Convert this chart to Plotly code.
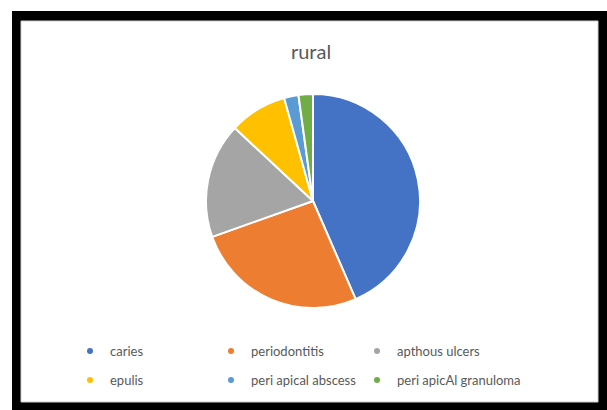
import plotly.graph_objects as go

# Case counts per condition (rural group)
labels = ["caries", "periodontitis", "apthous ulcers", "epulis",
          "peri apical abscess", "peri apicAl granuloma"]
counts = [40, 24, 16, 8, 2, 2]
colors = ["#4472C4", "#ED7D31", "#A5A5A5", "#FFC000", "#5B9BD5", "#70AD47"]
title_text = "rural"

W, H = 607, 410
FONT = "Lato, 'Open Sans', sans-serif"
GREY = "#595959"


def px(x):
    return x / W


def py(y):
    return 1 - y / H


fig = go.Figure()

# pie centred at (313, 201) with radius ~107 px
cx, cy, r = 313, 201, 107
fig.add_trace(go.Pie(
    labels=labels,
    values=counts,
    marker=dict(colors=colors, line=dict(color="white", width=2)),
    sort=False,
    direction="clockwise",
    rotation=0,
    textinfo="none",
    hoverinfo="label+value+percent",
    showlegend=False,
    domain=dict(x=[px(cx - r), px(cx + r)], y=[py(cy + r), py(cy - r)]),
))

# legend grid below the pie: 3 columns x 2 rows, one legend box per entry
col_x = [70, 211, 357]
row_y = [351, 380]
legend_layouts = {}
for i, (lab, col) in enumerate(zip(labels, colors)):
    key = "legend" if i == 0 else f"legend{i + 1}"
    fig.add_trace(go.Scatter(
        x=[None], y=[None], mode="markers", name=lab,
        marker=dict(color=col, size=6, symbol="circle"),
        showlegend=True, hoverinfo="skip", legend=key,
    ))
    legend_layouts[key] = dict(
        x=px(col_x[i % 3]), y=py(row_y[i // 3]),
        xanchor="left", yanchor="middle",
        orientation="h",
        bgcolor="rgba(0,0,0,0)",
        borderwidth=0,
        itemclick=False,
        itemdoubleclick=False,
        font=dict(family=FONT, size=13, color=GREY),
    )

fig.update_layout(
    width=W,
    height=H,
    margin=dict(l=0, r=0, t=0, b=0),
    paper_bgcolor="white",
    plot_bgcolor="rgba(0,0,0,0)",
    xaxis=dict(visible=False),
    yaxis=dict(visible=False),
    title=dict(
        text=title_text,
        x=px(311), xanchor="center",
        y=py(52), yanchor="middle",
        font=dict(family=FONT, size=20, color=GREY),
    ),
    shapes=[
        # heavy black frame
        dict(type="rect", xref="paper", yref="paper", layer="below",
             x0=px(12), x1=px(607), y0=py(410), y1=py(11),
             fillcolor="black", line=dict(width=0)),
        # white chart area with a faint grey edge
        dict(type="rect", xref="paper", yref="paper", layer="below",
             x0=px(21), x1=px(598), y0=py(402), y1=py(21),
             fillcolor="white", line=dict(color="#cfcfcf", width=1)),
    ],
    **legend_layouts,
)

fig.write_html("out.html")
